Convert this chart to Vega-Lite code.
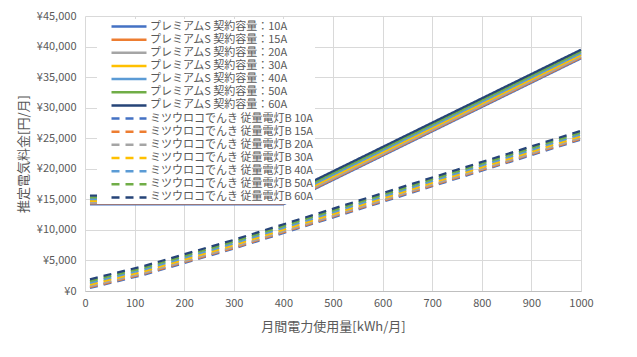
{
  "$schema": "https://vega.github.io/schema/vega-lite/v6.json",
  "width": 496,
  "height": 275,
  "autosize": {"type": "none"},
  "padding": {"left": 85, "top": 16, "right": 56, "bottom": 66},
  "background": "white",
  "config": {
    "view": {"stroke": null},
    "font": "Noto Sans CJK JP",
    "axis": {
      "gridColor": "#D9D9D9",
      "gridWidth": 1,
      "ticks": false,
      "labelColor": "#595959",
      "labelFontSize": 11,
      "titleColor": "#595959",
      "titleFontSize": 13,
      "titleFontWeight": "normal"
    }
  },
  "data": {
    "values": [
      {"kwh": 10, "series": "プレミアムS 契約容量：10A", "fee": 14180},
      {"kwh": 400, "series": "プレミアムS 契約容量：10A", "fee": 14180},
      {"kwh": 1000, "series": "プレミアムS 契約容量：10A", "fee": 38060},
      {"kwh": 10, "series": "プレミアムS 契約容量：15A", "fee": 14323},
      {"kwh": 400, "series": "プレミアムS 契約容量：15A", "fee": 14323},
      {"kwh": 1000, "series": "プレミアムS 契約容量：15A", "fee": 38203},
      {"kwh": 10, "series": "プレミアムS 契約容量：20A", "fee": 14466},
      {"kwh": 400, "series": "プレミアムS 契約容量：20A", "fee": 14466},
      {"kwh": 1000, "series": "プレミアムS 契約容量：20A", "fee": 38346},
      {"kwh": 10, "series": "プレミアムS 契約容量：30A", "fee": 14752},
      {"kwh": 400, "series": "プレミアムS 契約容量：30A", "fee": 14752},
      {"kwh": 1000, "series": "プレミアムS 契約容量：30A", "fee": 38632},
      {"kwh": 10, "series": "プレミアムS 契約容量：40A", "fee": 15038},
      {"kwh": 400, "series": "プレミアムS 契約容量：40A", "fee": 15038},
      {"kwh": 1000, "series": "プレミアムS 契約容量：40A", "fee": 38918},
      {"kwh": 10, "series": "プレミアムS 契約容量：50A", "fee": 15324},
      {"kwh": 400, "series": "プレミアムS 契約容量：50A", "fee": 15324},
      {"kwh": 1000, "series": "プレミアムS 契約容量：50A", "fee": 39204},
      {"kwh": 10, "series": "プレミアムS 契約容量：60A", "fee": 15610},
      {"kwh": 400, "series": "プレミアムS 契約容量：60A", "fee": 15610},
      {"kwh": 1000, "series": "プレミアムS 契約容量：60A", "fee": 39490},
      {"kwh": 10, "series": "ミツウロコでんき 従量電灯B 10A", "fee": 486},
      {"kwh": 120, "series": "ミツウロコでんき 従量電灯B 10A", "fee": 2686},
      {"kwh": 300, "series": "ミツウロコでんき 従量電灯B 10A", "fee": 6934},
      {"kwh": 1000, "series": "ミツウロコでんき 従量電灯B 10A", "fee": 24784},
      {"kwh": 10, "series": "ミツウロコでんき 従量電灯B 15A", "fee": 629},
      {"kwh": 120, "series": "ミツウロコでんき 従量電灯B 15A", "fee": 2829},
      {"kwh": 300, "series": "ミツウロコでんき 従量電灯B 15A", "fee": 7077},
      {"kwh": 1000, "series": "ミツウロコでんき 従量電灯B 15A", "fee": 24927},
      {"kwh": 10, "series": "ミツウロコでんき 従量電灯B 20A", "fee": 772},
      {"kwh": 120, "series": "ミツウロコでんき 従量電灯B 20A", "fee": 2972},
      {"kwh": 300, "series": "ミツウロコでんき 従量電灯B 20A", "fee": 7220},
      {"kwh": 1000, "series": "ミツウロコでんき 従量電灯B 20A", "fee": 25070},
      {"kwh": 10, "series": "ミツウロコでんき 従量電灯B 30A", "fee": 1058},
      {"kwh": 120, "series": "ミツウロコでんき 従量電灯B 30A", "fee": 3258},
      {"kwh": 300, "series": "ミツウロコでんき 従量電灯B 30A", "fee": 7506},
      {"kwh": 1000, "series": "ミツウロコでんき 従量電灯B 30A", "fee": 25356},
      {"kwh": 10, "series": "ミツウロコでんき 従量電灯B 40A", "fee": 1344},
      {"kwh": 120, "series": "ミツウロコでんき 従量電灯B 40A", "fee": 3544},
      {"kwh": 300, "series": "ミツウロコでんき 従量電灯B 40A", "fee": 7792},
      {"kwh": 1000, "series": "ミツウロコでんき 従量電灯B 40A", "fee": 25642},
      {"kwh": 10, "series": "ミツウロコでんき 従量電灯B 50A", "fee": 1630},
      {"kwh": 120, "series": "ミツウロコでんき 従量電灯B 50A", "fee": 3830},
      {"kwh": 300, "series": "ミツウロコでんき 従量電灯B 50A", "fee": 8078},
      {"kwh": 1000, "series": "ミツウロコでんき 従量電灯B 50A", "fee": 25928},
      {"kwh": 10, "series": "ミツウロコでんき 従量電灯B 60A", "fee": 1916},
      {"kwh": 120, "series": "ミツウロコでんき 従量電灯B 60A", "fee": 4116},
      {"kwh": 300, "series": "ミツウロコでんき 従量電灯B 60A", "fee": 8364},
      {"kwh": 1000, "series": "ミツウロコでんき 従量電灯B 60A", "fee": 26214}
    ]
  },
  "mark": {"type": "line", "strokeWidth": 2.25},
  "encoding": {
    "x": {
      "field": "kwh",
      "type": "quantitative",
      "scale": {"domain": [0, 1000], "nice": false},
      "axis": {
        "values": [0, 100, 200, 300, 400, 500, 600, 700, 800, 900, 1000],
        "format": "d",
        "title": "月間電力使用量[kWh/月]",
        "domainColor": "#BFBFBF",
        "labelPadding": 6,
        "titlePadding": 12,
        "labelFlush": false
      }
    },
    "y": {
      "field": "fee",
      "type": "quantitative",
      "scale": {"domain": [0, 45000], "nice": false},
      "axis": {
        "values": [0, 5000, 10000, 15000, 20000, 25000, 30000, 35000, 40000, 45000],
        "labelExpr": "'¥' + format(datum.value, ',')",
        "title": "推定電気料金[円/月]",
        "domain": false,
        "labelPadding": 9,
        "titlePadding": 6
      }
    },
    "color": {
      "field": "series",
      "type": "nominal",
      "scale": {
        "domain": ["プレミアムS 契約容量：10A", "プレミアムS 契約容量：15A", "プレミアムS 契約容量：20A", "プレミアムS 契約容量：30A", "プレミアムS 契約容量：40A", "プレミアムS 契約容量：50A", "プレミアムS 契約容量：60A", "ミツウロコでんき 従量電灯B 10A", "ミツウロコでんき 従量電灯B 15A", "ミツウロコでんき 従量電灯B 20A", "ミツウロコでんき 従量電灯B 30A", "ミツウロコでんき 従量電灯B 40A", "ミツウロコでんき 従量電灯B 50A", "ミツウロコでんき 従量電灯B 60A"],
        "range": ["#4472C4", "#ED7D31", "#A5A5A5", "#FFC000", "#5B9BD5", "#70AD47", "#264478", "#4472C4", "#ED7D31", "#A5A5A5", "#FFC000", "#5B9BD5", "#70AD47", "#264478"]
      },
      "legend": {
        "title": null,
        "orient": "none",
        "legendX": 12,
        "legendY": 3,
        "fillColor": "white",
        "padding": 1,
        "symbolType": "M-3.5,0H3.5",
        "symbolSize": 100,
        "symbolStrokeWidth": 2.5,
        "symbolOffset": 24.5,
        "labelOffset": 14.5,
        "labelFontSize": 11,
        "labelColor": "#595959",
        "labelLimit": 300,
        "rowPadding": 1.15
      }
    },
    "strokeDash": {
      "field": "series",
      "type": "nominal",
      "scale": {
        "domain": ["プレミアムS 契約容量：10A", "プレミアムS 契約容量：15A", "プレミアムS 契約容量：20A", "プレミアムS 契約容量：30A", "プレミアムS 契約容量：40A", "プレミアムS 契約容量：50A", "プレミアムS 契約容量：60A", "ミツウロコでんき 従量電灯B 10A", "ミツウロコでんき 従量電灯B 15A", "ミツウロコでんき 従量電灯B 20A", "ミツウロコでんき 従量電灯B 30A", "ミツウロコでんき 従量電灯B 40A", "ミツウロコでんき 従量電灯B 50A", "ミツウロコでんき 従量電灯B 60A"],
        "range": [[1, 0], [1, 0], [1, 0], [1, 0], [1, 0], [1, 0], [1, 0], [8, 6], [8, 6], [8, 6], [8, 6], [8, 6], [8, 6], [8, 6]]
      },
      "legend": {
        "title": null,
        "orient": "none",
        "legendX": 12,
        "legendY": 3,
        "fillColor": "white",
        "padding": 1,
        "symbolType": "M-3.5,0H3.5",
        "symbolSize": 100,
        "symbolStrokeWidth": 2.5,
        "symbolOffset": 24.5,
        "labelOffset": 14.5,
        "labelFontSize": 11,
        "labelColor": "#595959",
        "labelLimit": 300,
        "rowPadding": 1.15
      }
    }
  }
}
